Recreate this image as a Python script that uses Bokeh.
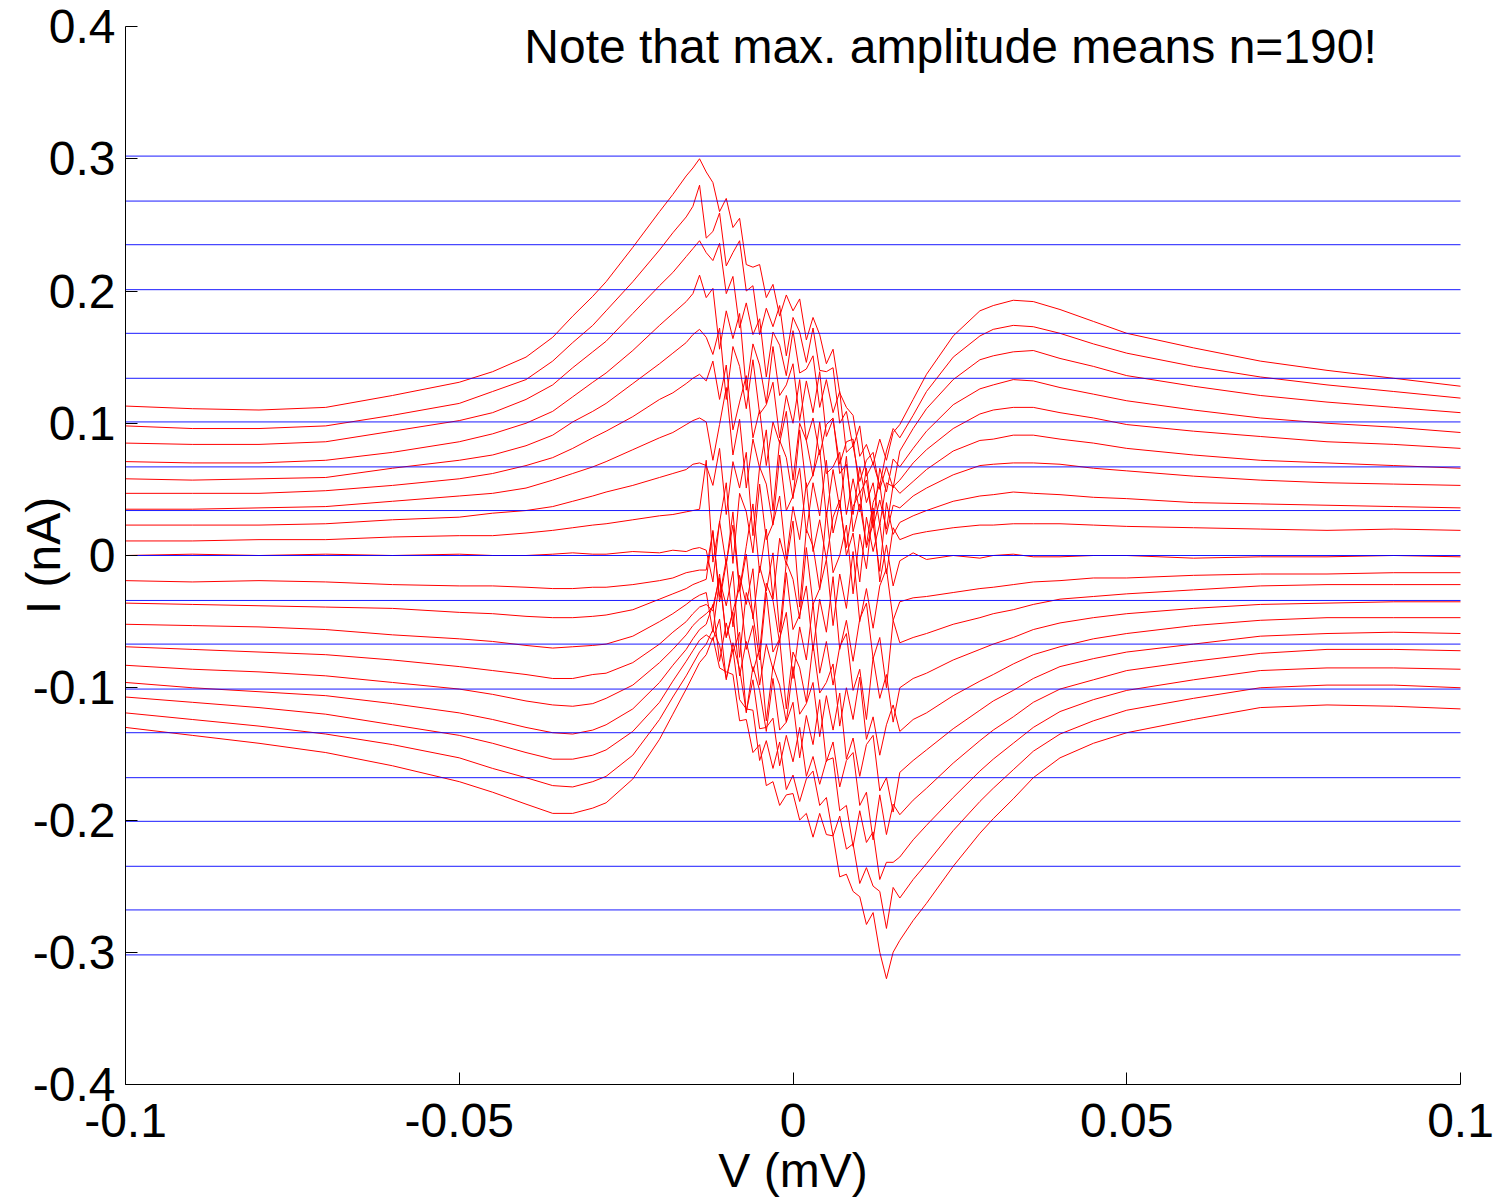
import math
from bokeh.plotting import figure
from bokeh.models import Range1d, FixedTicker, Label
from bokeh.embed import file_html
from bokeh.resources import INLINE

# ---------------- data ----------------
v_mv = [-0.100, -0.090, -0.080, -0.070, -0.060, -0.050, -0.045, -0.040, -0.036, -0.033,
        -0.030, -0.028, -0.024, -0.020, -0.018, -0.016, -0.015, -0.014, -0.013,
        -0.012, -0.011, -0.010, -0.009, -0.008, -0.007, -0.006, -0.005, -0.004, -0.003,
        -0.002, -0.001, 0.000, 0.001, 0.002, 0.003, 0.004, 0.005, 0.006, 0.007,
        0.008, 0.009, 0.010, 0.011, 0.012, 0.013, 0.014, 0.015,
        0.016, 0.018, 0.020, 0.024, 0.028, 0.030, 0.033, 0.036, 0.040, 0.045,
        0.050, 0.060, 0.070, 0.080, 0.090, 0.100]

trace_01 = [0.113, 0.111, 0.110, 0.112, 0.121, 0.131, 0.139, 0.150, 0.165, 0.181, 0.196, 0.207, 0.233, 0.260, 0.273, 0.287, 0.293, 0.300, 0.290,
            0.282, 0.260, 0.270, 0.248, 0.255, 0.220, 0.218, 0.220, 0.195, 0.205, 0.181, 0.197, 0.185, 0.194, 0.163, 0.180, 0.167, 0.145, 0.156, 0.123, 0.112, 0.106, 0.075, 0.084, 0.069, 0.088, 0.072, 0.093,
            0.099, 0.118, 0.137, 0.166, 0.185, 0.189, 0.193, 0.192, 0.186, 0.177, 0.168, 0.157, 0.147, 0.140, 0.134, 0.128]
trace_02 = [0.098, 0.096, 0.096, 0.098, 0.106, 0.115, 0.124, 0.133, 0.147, 0.161, 0.174, 0.185, 0.207, 0.231, 0.244, 0.256, 0.264, 0.280, 0.240,
            0.245, 0.259, 0.219, 0.229, 0.238, 0.200, 0.204, 0.167, 0.187, 0.173, 0.189, 0.151, 0.180, 0.169, 0.146, 0.172, 0.140, 0.139, 0.142, 0.100, 0.109, 0.082, 0.098, 0.060, 0.070, 0.053, 0.079, 0.096,
            0.089, 0.106, 0.124, 0.150, 0.166, 0.171, 0.174, 0.173, 0.168, 0.160, 0.153, 0.143, 0.135, 0.129, 0.124, 0.119]
trace_03 = [0.085, 0.084, 0.084, 0.086, 0.094, 0.102, 0.108, 0.118, 0.129, 0.142, 0.154, 0.162, 0.183, 0.204, 0.214, 0.226, 0.232, 0.238, 0.229,
            0.223, 0.236, 0.198, 0.211, 0.172, 0.191, 0.167, 0.179, 0.135, 0.169, 0.159, 0.136, 0.170, 0.138, 0.141, 0.151, 0.112, 0.133, 0.108, 0.124, 0.078, 0.083, 0.056, 0.072, 0.078, 0.050, 0.067, 0.051,
            0.079, 0.096, 0.111, 0.133, 0.148, 0.151, 0.154, 0.155, 0.149, 0.143, 0.136, 0.128, 0.121, 0.116, 0.112, 0.108]
trace_04 = [0.071, 0.070, 0.070, 0.072, 0.078, 0.086, 0.092, 0.100, 0.109, 0.120, 0.131, 0.138, 0.155, 0.174, 0.183, 0.192, 0.198, 0.212, 0.195,
            0.202, 0.156, 0.185, 0.164, 0.183, 0.125, 0.160, 0.144, 0.115, 0.158, 0.121, 0.129, 0.145, 0.102, 0.132, 0.108, 0.139, 0.090, 0.103, 0.069, 0.086, 0.088, 0.047, 0.057, 0.024, 0.066, 0.048, 0.073,
            0.067, 0.081, 0.094, 0.114, 0.126, 0.129, 0.133, 0.132, 0.127, 0.122, 0.117, 0.110, 0.104, 0.100, 0.097, 0.093]
trace_05 = [0.058, 0.057, 0.058, 0.059, 0.066, 0.072, 0.076, 0.083, 0.091, 0.101, 0.109, 0.115, 0.130, 0.145, 0.153, 0.161, 0.167, 0.171, 0.165,
            0.152, 0.172, 0.118, 0.158, 0.143, 0.111, 0.148, 0.107, 0.114, 0.131, 0.089, 0.121, 0.100, 0.133, 0.087, 0.104, 0.076, 0.099, 0.104, 0.062, 0.069, 0.031, 0.067, 0.040, 0.055, 0.023, 0.055, 0.052,
            0.057, 0.070, 0.080, 0.096, 0.107, 0.110, 0.112, 0.112, 0.108, 0.104, 0.099, 0.094, 0.090, 0.086, 0.084, 0.081]
trace_06 = [0.047, 0.047, 0.047, 0.049, 0.053, 0.058, 0.062, 0.068, 0.074, 0.081, 0.089, 0.094, 0.105, 0.118, 0.123, 0.130, 0.134, 0.137, 0.132,
            0.147, 0.118, 0.144, 0.095, 0.116, 0.136, 0.089, 0.110, 0.068, 0.101, 0.085, 0.109, 0.057, 0.100, 0.087, 0.060, 0.101, 0.062, 0.067, 0.078, 0.031, 0.058, 0.033, 0.066, 0.021, 0.042, 0.020, 0.053,
            0.047, 0.056, 0.065, 0.079, 0.087, 0.088, 0.091, 0.091, 0.088, 0.085, 0.081, 0.076, 0.072, 0.070, 0.068, 0.066]
trace_07 = [0.035, 0.035, 0.036, 0.037, 0.041, 0.045, 0.047, 0.051, 0.057, 0.062, 0.067, 0.071, 0.080, 0.089, 0.093, 0.099, 0.102, 0.104, 0.101,
            0.072, 0.099, 0.127, 0.076, 0.103, 0.051, 0.088, 0.066, 0.095, 0.034, 0.087, 0.074, 0.043, 0.095, 0.051, 0.061, 0.080, 0.029, 0.065, 0.036, 0.075, 0.018, 0.039, 0.008, 0.040, 0.054, 0.016, 0.038,
            0.036, 0.045, 0.051, 0.061, 0.068, 0.069, 0.070, 0.070, 0.069, 0.066, 0.064, 0.060, 0.057, 0.055, 0.054, 0.053]
trace_08 = [0.023, 0.023, 0.023, 0.024, 0.027, 0.029, 0.032, 0.034, 0.037, 0.041, 0.045, 0.048, 0.053, 0.059, 0.062, 0.065, 0.069, 0.070, 0.068,
            0.053, 0.081, 0.031, 0.071, 0.051, 0.078, 0.015, 0.067, 0.054, 0.023, 0.076, 0.034, 0.045, 0.066, 0.017, 0.055, 0.030, 0.072, 0.017, 0.039, 0.006, 0.037, 0.048, 0.006, 0.024, -0.012, 0.040, 0.016,
            0.025, 0.030, 0.034, 0.041, 0.045, 0.046, 0.048, 0.047, 0.046, 0.044, 0.043, 0.040, 0.039, 0.038, 0.037, 0.036]
trace_09 = [0.011, 0.011, 0.012, 0.012, 0.014, 0.015, 0.015, 0.017, 0.019, 0.021, 0.023, 0.024, 0.027, 0.030, 0.031, 0.033, 0.034, 0.035, 0.072,
            -0.005, 0.025, 0.055, -0.006, 0.047, 0.033, 0.002, 0.054, 0.012, 0.024, 0.045, -0.003, 0.037, 0.012, 0.055, 0.003, 0.027, -0.003, 0.029, 0.042, 0.000, 0.017, -0.020, 0.029, 0.003, 0.024, -0.014, 0.021,
            0.012, 0.016, 0.018, 0.021, 0.023, 0.023, 0.024, 0.024, 0.024, 0.023, 0.022, 0.021, 0.020, 0.019, 0.020, 0.019]
trace_10 = [0.000, 0.001, 0.000, 0.001, 0.000, 0.001, 0.000, 0.000, 0.001, 0.002, 0.001, 0.001, 0.003, 0.002, 0.004, 0.003, 0.005, 0.006, 0.004,
            -0.020, 0.026, -0.007, 0.033, -0.026, 0.007, 0.039, -0.013, 0.020, -0.033, 0.013, -0.007, 0.026, -0.039, 0.020, 0.007, -0.026, 0.033, -0.013, 0.000, 0.023, -0.029, 0.016, -0.010, 0.036, -0.020, 0.008, -0.023,
            -0.004, 0.002, -0.003, 0.000, -0.002, 0.000, 0.001, -0.001, -0.001, 0.000, 0.000, -0.002, -0.001, -0.001, 0.000, -0.001]
trace_11 = [-0.019, -0.020, -0.019, -0.020, -0.022, -0.023, -0.023, -0.024, -0.025, -0.025, -0.024, -0.024, -0.022, -0.019, -0.017, -0.013, -0.012, -0.011, -0.011,
            0.019, -0.035, -0.006, 0.023, -0.027, 0.001, -0.048, -0.008, -0.027, 0.002, -0.058, -0.005, -0.018, -0.048, 0.006, -0.037, -0.025, -0.003, -0.053, -0.014, -0.040, 0.003, -0.050, -0.025, -0.055, -0.023, -0.010, -0.049,
            -0.035, -0.032, -0.031, -0.028, -0.025, -0.024, -0.022, -0.020, -0.019, -0.017, -0.017, -0.015, -0.014, -0.014, -0.013, -0.013]
trace_12 = [-0.036, -0.037, -0.038, -0.039, -0.040, -0.043, -0.044, -0.046, -0.047, -0.047, -0.046, -0.045, -0.041, -0.033, -0.029, -0.025, -0.022, -0.020, -0.018,
            0.018, -0.031, -0.003, -0.054, -0.015, -0.037, -0.010, -0.073, -0.021, -0.034, -0.066, -0.013, -0.056, -0.045, -0.023, -0.072, -0.033, -0.058, -0.016, -0.071, -0.049, -0.080, -0.048, -0.036, -0.078, -0.062, -0.100, -0.049,
            -0.066, -0.062, -0.059, -0.052, -0.047, -0.044, -0.041, -0.037, -0.033, -0.031, -0.029, -0.026, -0.023, -0.022, -0.022, -0.022]
trace_13 = [-0.052, -0.053, -0.054, -0.056, -0.060, -0.063, -0.065, -0.068, -0.070, -0.069, -0.068, -0.067, -0.061, -0.050, -0.044, -0.037, -0.033, -0.030, -0.028,
            -0.058, -0.018, -0.038, -0.012, -0.077, -0.028, -0.045, -0.079, -0.028, -0.073, -0.063, -0.043, -0.093, -0.054, -0.079, -0.036, -0.089, -0.065, -0.098, -0.069, -0.059, -0.102, -0.086, -0.124, -0.077, -0.108, -0.090, -0.126,
            -0.100, -0.093, -0.089, -0.079, -0.071, -0.067, -0.062, -0.056, -0.051, -0.047, -0.044, -0.040, -0.037, -0.036, -0.035, -0.035]
trace_14 = [-0.069, -0.071, -0.073, -0.075, -0.079, -0.084, -0.087, -0.090, -0.093, -0.093, -0.090, -0.089, -0.081, -0.067, -0.058, -0.050, -0.044, -0.039, -0.037,
            -0.042, -0.014, -0.062, -0.042, -0.024, -0.071, -0.053, -0.098, -0.067, -0.086, -0.063, -0.116, -0.073, -0.085, -0.111, -0.067, -0.104, -0.096, -0.082, -0.129, -0.100, -0.124, -0.092, -0.139, -0.122, -0.151, -0.128, -0.113,
            -0.133, -0.124, -0.119, -0.106, -0.095, -0.090, -0.082, -0.075, -0.069, -0.063, -0.059, -0.053, -0.049, -0.047, -0.047, -0.047]
trace_15 = [-0.083, -0.086, -0.088, -0.091, -0.096, -0.101, -0.105, -0.110, -0.113, -0.114, -0.112, -0.108, -0.098, -0.081, -0.071, -0.060, -0.053, -0.048, -0.044,
            -0.039, -0.017, -0.062, -0.043, -0.091, -0.065, -0.088, -0.070, -0.125, -0.084, -0.098, -0.126, -0.084, -0.120, -0.112, -0.096, -0.137, -0.106, -0.132, -0.104, -0.154, -0.138, -0.167, -0.143, -0.136, -0.178, -0.168, -0.194,
            -0.164, -0.155, -0.147, -0.131, -0.117, -0.110, -0.102, -0.093, -0.084, -0.078, -0.073, -0.067, -0.061, -0.059, -0.058, -0.059]
trace_16 = [-0.096, -0.100, -0.103, -0.106, -0.112, -0.119, -0.124, -0.130, -0.134, -0.135, -0.132, -0.128, -0.116, -0.096, -0.083, -0.071, -0.063, -0.056, -0.052,
            -0.037, -0.080, -0.051, -0.073, -0.058, -0.119, -0.084, -0.102, -0.133, -0.093, -0.132, -0.126, -0.111, -0.153, -0.121, -0.143, -0.109, -0.156, -0.141, -0.175, -0.155, -0.149, -0.189, -0.179, -0.215, -0.181, -0.211, -0.188,
            -0.196, -0.185, -0.176, -0.157, -0.140, -0.132, -0.122, -0.111, -0.101, -0.094, -0.087, -0.080, -0.074, -0.071, -0.071, -0.072]
trace_17 = [-0.107, -0.111, -0.115, -0.120, -0.128, -0.136, -0.142, -0.149, -0.154, -0.154, -0.151, -0.147, -0.133, -0.111, -0.095, -0.080, -0.072, -0.064, -0.060,
            -0.064, -0.048, -0.094, -0.066, -0.086, -0.118, -0.094, -0.131, -0.130, -0.123, -0.159, -0.136, -0.156, -0.130, -0.167, -0.152, -0.173, -0.155, -0.153, -0.193, -0.189, -0.220, -0.193, -0.217, -0.209, -0.245, -0.232, -0.232,
            -0.228, -0.215, -0.204, -0.183, -0.163, -0.154, -0.142, -0.130, -0.118, -0.109, -0.102, -0.094, -0.087, -0.085, -0.085, -0.086]
trace_18 = [-0.119, -0.124, -0.129, -0.135, -0.143, -0.153, -0.161, -0.168, -0.174, -0.175, -0.171, -0.167, -0.151, -0.124, -0.107, -0.091, -0.082, -0.073, -0.067,
            -0.056, -0.068, -0.093, -0.071, -0.109, -0.116, -0.117, -0.155, -0.140, -0.161, -0.141, -0.177, -0.166, -0.186, -0.169, -0.163, -0.189, -0.183, -0.212, -0.197, -0.222, -0.218, -0.248, -0.236, -0.250, -0.254, -0.282, -0.251,
            -0.259, -0.245, -0.233, -0.208, -0.186, -0.176, -0.162, -0.148, -0.135, -0.125, -0.117, -0.108, -0.100, -0.098, -0.098, -0.100]
trace_19 = [-0.130, -0.136, -0.142, -0.149, -0.159, -0.171, -0.179, -0.188, -0.195, -0.195, -0.191, -0.187, -0.169, -0.139, -0.120, -0.101, -0.091, -0.081, -0.075,
            -0.062, -0.085, -0.088, -0.090, -0.125, -0.124, -0.149, -0.143, -0.174, -0.171, -0.189, -0.181, -0.180, -0.200, -0.195, -0.213, -0.195, -0.211, -0.212, -0.243, -0.241, -0.254, -0.258, -0.279, -0.270, -0.300, -0.320, -0.300,
            -0.291, -0.276, -0.263, -0.235, -0.210, -0.199, -0.184, -0.168, -0.153, -0.142, -0.134, -0.124, -0.115, -0.113, -0.114, -0.116]

ref_levels = [0.302, 0.268, 0.235, 0.201, 0.168, 0.134, 0.101, 0.067, 0.034, 0.0,
              -0.034, -0.067, -0.101, -0.134, -0.168, -0.201, -0.235, -0.268, -0.302]

x_lim = [-0.1, 0.1]
y_lim = [-0.4, 0.4]
x_ticks = [-0.1, -0.05, 0.0, 0.05, 0.1]
x_tick_labels = ["-0.1", "-0.05", "0", "0.05", "0.1"]
y_ticks = [-0.4, -0.3, -0.2, -0.1, 0.0, 0.1, 0.2, 0.3, 0.4]
y_tick_labels = ["-0.4", "-0.3", "-0.2", "-0.1", "0", "0.1", "0.2", "0.3", "0.4"]

note_text = "Note that max. amplitude means n=190!"
x_label = "V (mV)"
y_label = "I (nA)"

traces = [trace_01, trace_02, trace_03, trace_04, trace_05, trace_06, trace_07, trace_08, trace_09, trace_10,
          trace_11, trace_12, trace_13, trace_14, trace_15, trace_16, trace_17, trace_18, trace_19]
for n, tr in enumerate(traces, 1):
    if len(tr) != len(v_mv):
        raise ValueError("trace_%02d has %d values, expected %d" % (n, len(tr), len(v_mv)))

# ---------------- layout ----------------
W, H = 1497, 1198
AX_L, AX_R, AX_T, AX_B = 125, 1460, 26, 1084        # pixel box of the axes in the reference
sx = (AX_R - AX_L) / (x_lim[1] - x_lim[0])
sy = (AX_B - AX_T) / (y_lim[1] - y_lim[0])
xr = Range1d(x_lim[0] - AX_L / sx, x_lim[1] + (W - AX_R) / sx)
yr = Range1d(y_lim[0] - (H - AX_B) / sy, y_lim[1] + AX_T / sy)

FONT = "Liberation Sans"

p = figure(width=W, height=H, output_backend="svg", toolbar_location=None,
           x_range=xr, y_range=yr, title=None,
           min_border_left=0, min_border_right=0, min_border_top=0, min_border_bottom=0)
p.outline_line_color = None
p.grid.visible = False
p.background_fill_color = "white"
p.border_fill_color = "white"

for tr in traces:
    p.line(v_mv, tr, line_color="#ff0000", line_width=1)

p.segment(x0=[x_lim[0]] * len(ref_levels), x1=[x_lim[1]] * len(ref_levels),
          y0=ref_levels, y1=ref_levels, line_color="#0000ff", line_width=1, line_alpha=0.9)

# axes, pinned at the edges of the data box
p.xaxis.fixed_location = y_lim[0]
p.xaxis.bounds = (x_lim[0], x_lim[1])
p.yaxis.fixed_location = x_lim[0]
p.yaxis.bounds = (y_lim[0], y_lim[1])
p.xaxis.ticker = FixedTicker(ticks=x_ticks)
p.xaxis.major_label_overrides = {v: s for v, s in zip(x_ticks, x_tick_labels)}
p.yaxis.ticker = FixedTicker(ticks=y_ticks)
p.yaxis.major_label_overrides = {v: s for v, s in zip(y_ticks, y_tick_labels)}
for ax in (p.xaxis, p.yaxis):
    ax.major_label_text_font = FONT
    ax.major_label_text_font_size = "48px"
    ax.major_label_text_color = "black"
    ax.major_tick_in = 12
    ax.major_tick_out = 0
    ax.minor_tick_line_color = None
    ax.axis_line_color = "black"
    ax.major_tick_line_color = "black"
p.xaxis.major_label_standoff = 19
p.yaxis.major_label_standoff = 10

# axis titles and the note (baseline offsets tuned to the reference)
xlab = Label(x=0.0, y=-0.465, text=x_label, text_font=FONT, text_font_size="48px",
             text_align="center", text_baseline="alphabetic", text_color="black")
ylab = Label(x=-0.1123, y=0.0, text=y_label, text_font=FONT, text_font_size="48px",
             text_align="center", text_baseline="alphabetic", text_color="black", angle=math.pi / 2)
note = Label(x=0.0236, y=0.385, text=note_text, text_font=FONT, text_font_size="48px",
             text_align="center", text_baseline="alphabetic", text_color="black")
for lab in (xlab, ylab, note):
    p.add_layout(lab)

open("out.html", "w").write(file_html(p, INLINE))
